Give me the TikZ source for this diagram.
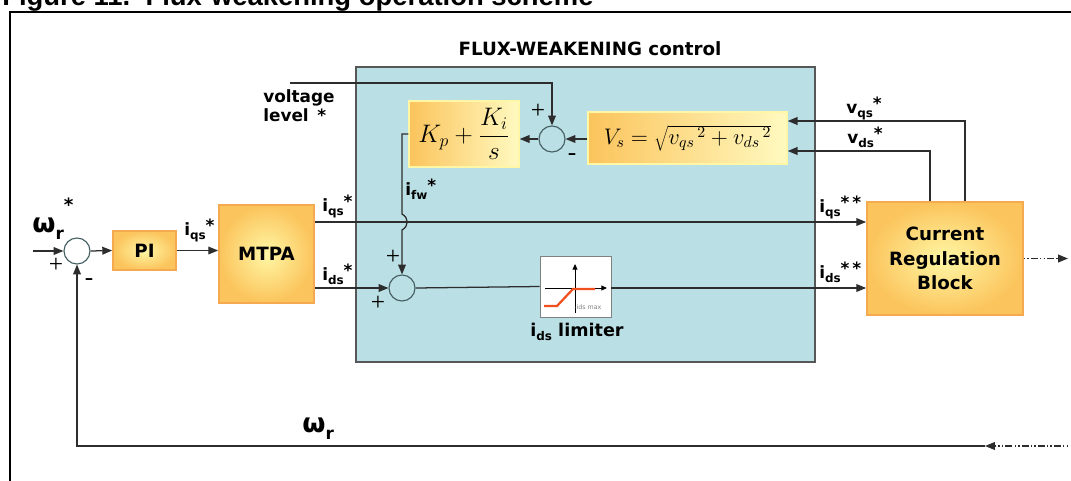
\RequirePackage{fix-cm}
\documentclass[tikz,border=0pt]{standalone}
\usepackage{fontspec}
\usepackage{tikz}
\setmainfont{DejaVu Sans}
\newfontfamily\capfont{Liberation Sans}
\newfontfamily\signfont{Liberation Serif}
\usetikzlibrary{arrows.meta,calc}

\newlength\px
\setlength\px{0.025cm}

\definecolor{fwcyan}{RGB}{186,223,228}
\definecolor{blkin}{RGB}{255,247,165}
\definecolor{blkout}{RGB}{251,196,92}
\definecolor{blkedge}{RGB}{246,170,80}
\definecolor{wirecol}{RGB}{45,45,45}
\definecolor{ringcol}{RGB}{70,95,100}
\definecolor{satred}{RGB}{240,80,30}

% signal name: letter, subscript, superscript
\newcommand\sig[4][8.5]{#2\raisebox{-0.5ex}{\fontsize{#1}{#1}\selectfont #3}\raisebox{0.35ex}{#4}}

\tikzset{
blk/.style={draw=blkedge, line width=1.2pt, inner color=blkin, outer color=blkout,
  font=\fontsize{13}{17.5}\selectfont\bfseries, align=center, inner sep=0pt},
eqbox/.style={draw=blkin, line width=1pt, left color=blkout, right color=blkin!70!white,
  font=\fontsize{16}{18}\selectfont, inner sep=0pt},
sumnode/.style={circle, draw=ringcol, line width=0.8pt, minimum size=26\px, inner sep=0pt},
wire/.style={draw=wirecol, line width=0.9pt},
arr/.style={wire, -{Triangle[length=7pt,width=5.5pt]}},
lbl/.style={font=\fontsize{12}{14}\selectfont\bfseries, inner sep=0pt},
sgn/.style={font=\signfont\fontsize{18}{18}\selectfont, inner sep=0pt},
}

\begin{document}
\begin{tikzpicture}[x=1\px, y=-1\px]
\useasboundingbox (0,0) rectangle (1071,480);

% caption, cut by the top of the page
\node[anchor=base west, inner sep=0pt, font=\capfont\fontsize{19.5}{20}\selectfont\bfseries] (caption) at (2,5.5) {Figure 11.\ \ Flux-weakening operation scheme};
\draw[line width=1.6pt] (10,484) -- (10,12) -- (1075,12);

% flux-weakening area
\node[draw=wirecol!80, line width=0.8pt, fill=fwcyan, minimum width=459\px, minimum height=295\px, inner sep=0pt] (fw) at (585.5,214.5) {};
\node[anchor=base, font=\fontsize{13}{15}\selectfont\bfseries, inner sep=0pt] (fwtitle) at (590,55) {FLUX-WEAKENING control};

% blocks
\node[blk, minimum width=63\px, minimum height=39\px] (pi) at (144.5,250.5) {PI};
\node[blk, minimum width=95\px, minimum height=98\px] (mtpa) at (266.5,254) {MTPA};
\node[blk, minimum width=156\px, minimum height=113\px] (crb) at (945,258.5) {Current\\Regulation\\Block};
\node[eqbox, minimum width=110\px, minimum height=66\px, font=\fontsize{18}{20}\selectfont] (kp) at (464,134) {$\displaystyle K_p+\frac{K_i}{s}$};
\node[eqbox, minimum width=199\px, minimum height=52\px] (vs) at (687.5,138) {$V_s=\sqrt{{v_{qs}}^{\,2}+{v_{ds}}^{\,2}}$};

\node[sumnode] (s1) at (77,251) {};
\node[sumnode] (s2) at (402,288) {};
\node[sumnode] (s3) at (552,139) {};

% limiter
\node[draw=gray, fill=white, line width=0.6pt, minimum width=71\px, minimum height=61\px, inner sep=0pt] (lim) at (575.5,286.5) {};
\draw[line width=0.6pt, -{Triangle[length=4pt,width=3.5pt]}] (545,288) -- (607,288);
\draw[line width=0.6pt, -{Triangle[length=4pt,width=3.5pt]}] (575,313) -- (575,264);
\draw[satred, line width=1.6pt] (544,306) -- (557,306) -- (573,289) -- (595,289);
\node[anchor=west, font=\fontsize{4.5}{5}\selectfont, text=gray, inner sep=0pt] (limtxt) at (574,307.5) {-ids max};
\node[lbl, anchor=base, font=\fontsize{12.5}{14}\selectfont\bfseries] (limlbl) at (577,336) {\sig{i}{ds}{}\ limiter};

% free ends
\coordinate (wref) at (33,251);
\coordinate (vlev) at (290,83);
\coordinate (yq) at (0,222);
\coordinate (out) at (1068,258.5);
\coordinate (fbin) at (1068,446);
\coordinate (fbend) at (985,446);

% connectors
\draw[arr] (wref) -- (s1.west);
\draw[arr] (s1.east) -- (pi.west);
\draw[arr] (pi.east) -- (pi.east -| mtpa.west);
\draw[arr] (mtpa.east |- yq) -- (crb.west |- yq);
\draw[arr] (mtpa.east |- s2) -- (s2.west);
\draw[wire] (s2.east) -- (lim.west);
\draw[arr] (lim.east |- s2) -- (crb.west |- s2);
\draw[arr] (vlev) -| (s3.north);
\draw[arr] (vs.west |- s3) -- (s3.east);
\draw[arr] (s3.west) -- (s3.west -| kp.east);
\draw[arr] (kp.west) -- (kp.west -| s2) -- ($(s2 |- yq)+(0,-8)$)
  .. controls ($(s2 |- yq)+(7,-4)$) and ($(s2 |- yq)+(7,4)$) .. ($(s2 |- yq)+(0,8)$) -- (s2.north);
\draw[arr] ($(crb.north)+(20,0)$) |- ($(vs.east)+(0,-17)$);
\draw[arr] ($(crb.north)+(-15,0)$) |- ($(vs.east)+(0,13)$);
\draw[arr, dash pattern=on 1pt off 1.5pt on 1pt off 1.5pt on 5pt off 1.5pt] (crb.east) -- (out);
\draw[arr, dash pattern=on 1pt off 1.5pt on 1pt off 1.5pt on 5pt off 1.5pt] (fbin) -- (fbend);
\draw[arr] (fbend) -| (s1.south);

% signal labels
\node[lbl, anchor=base west, font=\fontsize{19}{19}\selectfont\bfseries] (lwref) at (32,232) {ω\raisebox{-0.5ex}{\fontsize{12}{12}\selectfont r}\raisebox{1.4ex}{\fontsize{13}{13}\selectfont *}};
\node[lbl, anchor=base west, font=\fontsize{19}{19}\selectfont\bfseries] (lwr) at (302,432) {ω\raisebox{-0.5ex}{\fontsize{12}{12}\selectfont r}};
\node[lbl, anchor=base west] (liqs) at (184,235) {\sig{i}{qs}{*}};
\node[lbl, anchor=base west] (liqsm) at (322,211) {\sig{i}{qs}{*}};
\node[lbl, anchor=base west] (lidsm) at (322,280) {\sig{i}{ds}{*}};
\node[lbl, anchor=base west] (lifw) at (405,195) {\sig{i}{fw}{*}};
\node[lbl, anchor=base west] (lvqs) at (846,113) {\sig{v}{qs}{*}};
\node[lbl, anchor=base west] (lvds) at (847,143) {\sig{v}{ds}{*}};
\node[lbl, anchor=base west] (liqss) at (819,212) {\sig{i}{qs}{*\,*}};
\node[lbl, anchor=base west] (lidss) at (819,278) {\sig{i}{ds}{*\,*}};
\node[lbl, anchor=north west, align=left, font=\fontsize{12}{13.5}\selectfont\bfseries] (lvlev) at (263,89) {voltage\\level \,*};

% signs
\node[sgn] (p1) at (56,265) {+};
\node[sgn] (m1) at (89,282) {-};
\node[sgn] (p2) at (393,257) {+};
\node[sgn] (p3) at (378,303) {+};
\node[sgn] (p4) at (538,111) {+};
\node[sgn] (m3) at (572,157) {-};
\end{tikzpicture}
\end{document}
